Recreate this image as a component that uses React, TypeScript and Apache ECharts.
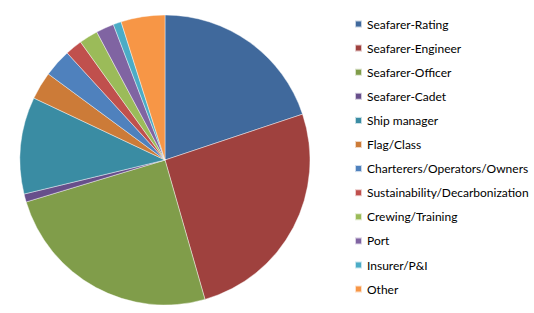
import React, { useEffect, useRef } from "react";
import * as echarts from "echarts";

const categories = [
  "Seafarer-Rating",
  "Seafarer-Engineer",
  "Seafarer-Officer",
  "Seafarer-Cadet",
  "Ship manager",
  "Flag/Class",
  "Charterers/Operators/Owners",
  "Sustainability/Decarbonization",
  "Crewing/Training",
  "Port",
  "Insurer/P&I",
  "Other",
];
const values = [19.9, 25.7, 24.8, 0.9, 10.8, 3.1, 3.1, 1.9, 2.1, 2.0, 0.9, 4.9];
const colors = [
  "#40699C",
  "#9F413E",
  "#809D4A",
  "#674F8B",
  "#3A8CA3",
  "#CC7B38",
  "#4F81BD",
  "#C0504D",
  "#9BBB59",
  "#8064A2",
  "#4BACC6",
  "#F79646",
];

export default function App() {
  const ref = useRef<HTMLDivElement>(null);
  useEffect(() => {
    if (!ref.current) return;
    const chart = echarts.init(ref.current, null, { renderer: "svg" });
    chart.setOption({
      animation: false,
      backgroundColor: "#ffffff",
      color: colors,
      legend: {
        orient: "vertical",
        left: 349,
        top: 13,
        itemWidth: 7,
        itemHeight: 7,
        itemGap: 12.1,
        icon: "rect",
        textStyle: {
          fontFamily: "Lato",
          fontSize: 12,
          lineHeight: 12,
          color: "#000000",
        },
        data: categories,
      },
      series: [
        {
          type: "pie",
          center: [165, 160],
          radius: 145,
          startAngle: 90,
          clockwise: true,
          label: { show: false },
          labelLine: { show: false },
          itemStyle: { borderColor: "rgba(255,255,255,0.7)", borderWidth: 0.6 },
          data: categories.map((name, i) => ({ name, value: values[i] })),
        },
      ],
    });
    return () => chart.dispose();
  }, []);
  return (
    <div
      ref={ref}
      style={{ position: "fixed", left: 0, top: 0, width: 534, height: 313 }}
    />
  );
}
